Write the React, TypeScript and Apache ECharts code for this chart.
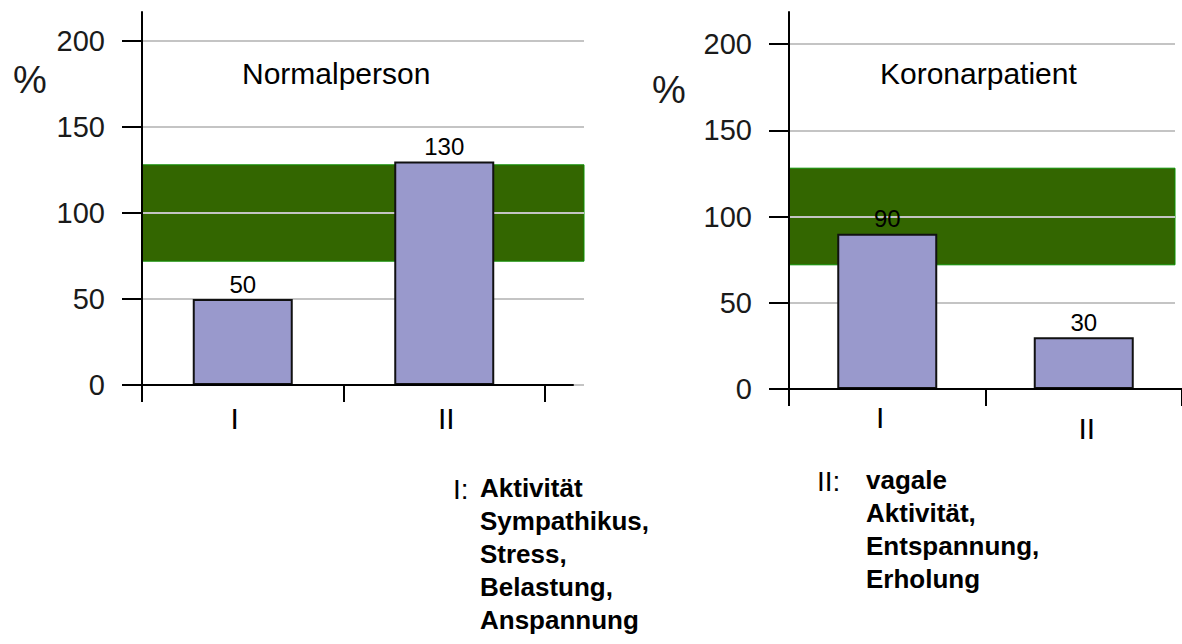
import React, { useEffect, useRef } from 'react';
import * as echarts from 'echarts';

// ---------- data ----------
const categories = ['I', 'II'];
const normalValues = [50, 130];
const koronarValues = [90, 30];
const chartTitles = ['Normalperson', 'Koronarpatient'];
const yMin = 0;
const yMax = 200;
const yInterval = 50;
const normalBand = [72, 128];
const unitLabel = '%';
const legendIKey = 'I:';
const legendILines = ['Aktivität', 'Sympathikus,', 'Stress,', 'Belastung,', 'Anspannung'];
const legendIIKey = 'II:';
const legendIILines = ['vagale', 'Aktivität,', 'Entspannung,', 'Erholung'];

// ---------- layout ----------
const FONT = 'Arial, "Liberation Sans", sans-serif';
const panels = [
  {
    values: normalValues,
    title: chartTitles[0],
    axisX: 142,
    top: 41,
    h: 344,
    mainW: 442,
    barW: 403,
    axesW: 431,
    titleX: 242,
    titleY: 73,
    pctX: 13,
    pctY: 80,
    labelMargin: 18,
    labelShift: [[-8, 0], [2, 0]],
  },
  {
    values: koronarValues,
    title: chartTitles[1],
    axisX: 789,
    top: 44,
    h: 345,
    mainW: 386,
    barW: 400,
    axesW: 393,
    titleX: 880,
    titleY: 73,
    pctX: 652,
    pctY: 90,
    labelMargin: 13,
    labelShift: [[-7, 0], [3, 11]],
  },
];

function buildOption() {
  const grid: any[] = [];
  const xAxis: any[] = [];
  const yAxis: any[] = [];
  const series: any[] = [];
  const graphic: any[] = [];

  panels.forEach((p, pi) => {
    const base = pi * 3;
    // main grid: gridlines, y ticks & labels, band
    grid.push({ left: p.axisX, top: p.top, width: p.mainW, height: p.h, containLabel: false });
    // bars grid
    grid.push({ left: p.axisX, top: p.top, width: p.barW, height: p.h, containLabel: false });
    // axis-line grid
    const axTop = 12;
    grid.push({ left: p.axisX, top: axTop, width: p.axesW, height: p.top + p.h - axTop, containLabel: false });

    xAxis.push({ gridIndex: base, type: 'value', min: 0, max: 1, show: false });
    yAxis.push({
      gridIndex: base,
      type: 'value',
      min: yMin,
      max: yMax,
      interval: yInterval,
      z: 2,
      axisLine: { show: false },
      axisTick: { show: true, inside: false, length: 20, lineStyle: { color: '#000', width: 2 } },
      axisLabel: { show: true, margin: 37, fontSize: 29, color: '#1a1a1a', fontFamily: FONT },
      splitLine: { show: true, lineStyle: { color: '#c4c4c4', width: 2 } },
    });

    const rich: any = {};
    categories.forEach((c, ci) => {
      const [dx, dy] = p.labelShift[ci];
      rich['p' + pi + 'c' + ci] = {
        fontSize: 30,
        fontFamily: FONT,
        color: '#000',
        padding: [dy, dx < 0 ? -2 * dx : 0, 0, dx > 0 ? 2 * dx : 0],
      };
    });
    xAxis.push({
      gridIndex: base + 1,
      type: 'category',
      data: categories,
      boundaryGap: true,
      z: 4,
      axisLine: { show: false },
      axisTick: { show: true, length: 17, lineStyle: { color: '#000', width: 2 } },
      axisLabel: {
        margin: p.labelMargin,
        fontSize: 30,
        fontFamily: FONT,
        color: '#000',
        formatter: (v: string, i: number) => '{p' + pi + 'c' + i + '|' + v + '}',
        rich,
      },
      splitLine: { show: false },
    });
    yAxis.push({ gridIndex: base + 1, type: 'value', min: yMin, max: yMax, show: false });

    xAxis.push({
      gridIndex: base + 2,
      type: 'value',
      min: 0,
      max: 1,
      z: 4,
      axisLine: { show: true, lineStyle: { color: '#000', width: 2 } },
      axisTick: { show: false },
      axisLabel: { show: false },
      splitLine: { show: false },
    });
    yAxis.push({
      gridIndex: base + 2,
      type: 'value',
      min: 0,
      max: 1,
      z: 4,
      axisLine: { show: true, lineStyle: { color: '#000', width: 2 } },
      axisTick: { show: false },
      axisLabel: { show: false },
      splitLine: { show: false },
    });

    series.push({
      type: 'line',
      xAxisIndex: base,
      yAxisIndex: base,
      data: [],
      z: 1,
      silent: true,
      markArea: {
        silent: true,
        itemStyle: { color: '#336600', borderColor: '#0b8f00', borderWidth: 1 },
        data: [[{ yAxis: normalBand[0] }, { yAxis: normalBand[1] }]],
      },
    });
    series.push({
      type: 'bar',
      xAxisIndex: base + 1,
      yAxisIndex: base + 1,
      data: p.values,
      barWidth: 100,
      z: 3,
      itemStyle: { color: '#9999cc', borderColor: '#111', borderWidth: 2 },
      label: { show: true, position: 'top', distance: 3, fontSize: 24, color: '#000', fontFamily: FONT },
    });

    graphic.push({
      type: 'text',
      left: p.titleX,
      top: p.titleY - 15,
      style: { text: p.title, fontSize: 30, fontFamily: FONT, fill: '#000' },
    });
    graphic.push({
      type: 'text',
      left: p.pctX,
      top: p.pctY - 19,
      style: { text: unitLabel, fontSize: 38, fontFamily: FONT, fill: '#1a1a1a' },
    });
  });

  const legendStyle = { fontSize: 26, fontWeight: 'bold', fontFamily: FONT, fill: '#000' };
  graphic.push({ type: 'text', left: 453, top: 490 - 15, style: { ...legendStyle, text: legendIKey, fontSize: 28, fontWeight: 'normal' } });
  legendILines.forEach((t, i) => {
    graphic.push({ type: 'text', left: 480, top: 490 - 15 + i * 33, style: { ...legendStyle, text: t } });
  });
  graphic.push({ type: 'text', left: 817, top: 482 - 15, style: { ...legendStyle, text: legendIIKey, fontSize: 28, fontWeight: 'normal' } });
  legendIILines.forEach((t, i) => {
    graphic.push({ type: 'text', left: 866, top: 482 - 15 + i * 33, style: { ...legendStyle, text: t } });
  });

  return {
    animation: false,
    backgroundColor: '#fff',
    grid,
    xAxis,
    yAxis,
    series,
    graphic,
  };
}

export default function App() {
  const ref = useRef<HTMLDivElement>(null);
  useEffect(() => {
    if (!ref.current) return;
    const chart = echarts.init(ref.current, undefined, { renderer: 'svg' });
    chart.setOption(buildOption() as any);
    return () => chart.dispose();
  }, []);
  return <div ref={ref} style={{ position: 'absolute', left: 0, top: 0, width: 1182, height: 644 }} />;
}
